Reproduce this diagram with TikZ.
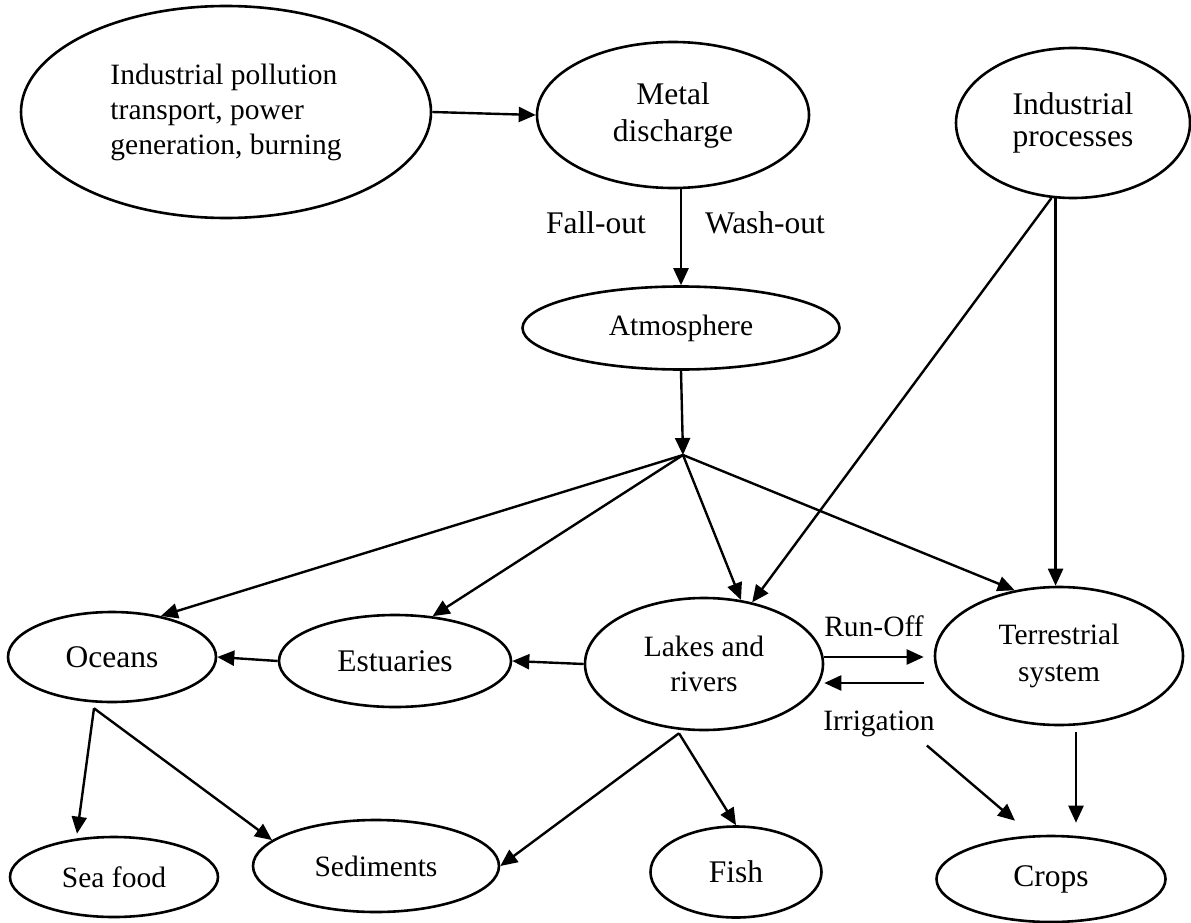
\documentclass[tikz,border=0pt]{standalone}
\usepackage{fontspec}
\setmainfont{Liberation Serif}
\usetikzlibrary{shapes.geometric,arrows.meta}
\tikzset{
	blob/.style={ellipse, draw, line width=2.6pt, inner sep=0pt, align=center},
	flow/.style={line width=2.4pt, -{Triangle[length=17pt,width=15pt]}},
	smalltext/.style={font=\fontsize{29.5}{35}\selectfont},
	largetext/.style={font=\fontsize{31.5}{37}\selectfont},
}

\begin{document}
\begin{tikzpicture}[x=1pt, y=-1pt]
			%%%%% START %%%%%
			\useasboundingbox (0, 0) rectangle (1191, 923);
			
			\node[blob, smalltext, align=left, minimum width=410pt, minimum height=212pt] (pollution) at (226, 112) {Industrial pollution\\transport, power\\generation, burning};
			\node[blob, largetext, minimum width=272pt, minimum height=146pt] (metal) at (673, 115) {Metal\\discharge};
			\node[blob, font=\fontsize{31.5}{32}\selectfont, minimum width=234pt, minimum height=150pt] (process) at (1073, 123) {Industrial\\processes};
			\node[blob, smalltext, minimum width=317pt, minimum height=83pt] (atmos) at (681, 328) {Atmosphere};
			
			\node[blob, largetext, minimum width=208pt, minimum height=90pt] (oceans) at (112, 657) {Oceans};
			\node[blob, largetext, minimum width=232pt, minimum height=92pt] (estuaries) at (395, 661) {Estuaries};
			\node[blob, smalltext, minimum width=238pt, minimum height=132pt] (lakes) at (704, 664) {Lakes and\\rivers};
			\node[blob, font=\fontsize{29.5}{37}\selectfont, minimum width=248pt, minimum height=138pt] (terr) at (1059, 656) {Terrestrial\\system};
			
			\node[blob, smalltext, minimum width=208pt, minimum height=80pt] (seafood) at (114, 877) {Sea food};
			\node[blob, smalltext, minimum width=246pt, minimum height=92pt] (sediments) at (376, 866) {Sediments};
			\node[blob, largetext, minimum width=171pt, minimum height=91pt] (fish) at (736, 872) {Fish};
			\node[blob, largetext, minimum width=229pt, minimum height=86pt] (crops) at (1051, 879) {Crops};
			
			\node[largetext, anchor=base, inner sep=0pt] (fallout) at (596, 233) {Fall-out};
			\node[largetext, anchor=base, inner sep=0pt] (washout) at (765, 233) {Wash-out};
			\node[smalltext, anchor=base, inner sep=0pt] (runoff) at (874, 636) {Run-Off};
			\node[smalltext, anchor=base, inner sep=0pt] (irrig) at (879, 730) {Irrigation};
			
			\coordinate (hub) at (683, 455);
			\coordinate (ofork) at ([xshift=-18pt, yshift=-5pt]oceans.south);
			\coordinate (lfork) at ([xshift=-25pt, yshift=-2pt]lakes.south);
			\coordinate (tfork) at ([xshift=17pt, yshift=-6pt]terr.south);
			
			\draw[flow] (pollution.east) -- (metal.west);
			\draw[flow] (atmos.north |- metal.south) -- (atmos.north);
			\draw[flow] (atmos.south) -- (hub);
			
			\draw[flow] (hub) -- (oceans.40);
			\draw[flow] (hub) -- (estuaries.50);
			\draw[flow] (hub) -- (lakes.60);
			\draw[flow] (hub) -- (terr.124);
			
			\draw[flow] (process.-106) -- (lakes.52);
			\draw[flow] (process.-103) -- (process.-103 |- terr.north);
			
			\draw[flow] (lakes.west) -- (estuaries.east);
			\draw[flow] (estuaries.west) -- (oceans.east);
			\draw[flow] ([yshift=7pt]lakes.east) -- ([xshift=-10pt, yshift=-1pt]terr.west);
			\draw[flow] ([xshift=-10pt, yshift=-27pt]terr.west) -- ([yshift=-19pt]lakes.east);
			
			\draw[flow] (ofork) -- ([xshift=-37pt, yshift=2pt]seafood.north);
			\draw[flow] (ofork) -- (sediments.166);
			\draw[flow] (lfork) -- (sediments.east);
			\draw[flow] (lfork) -- (fish.north);
			\draw[flow] (tfork) -- ([xshift=25pt, yshift=12pt]crops.north);
			\draw[flow] ([xshift=-8pt, yshift=-9pt]irrig.south east) -- ([xshift=-36pt, yshift=14pt]crops.north);
			%%%%% END %%%%%
\end{tikzpicture}
\end{document}
